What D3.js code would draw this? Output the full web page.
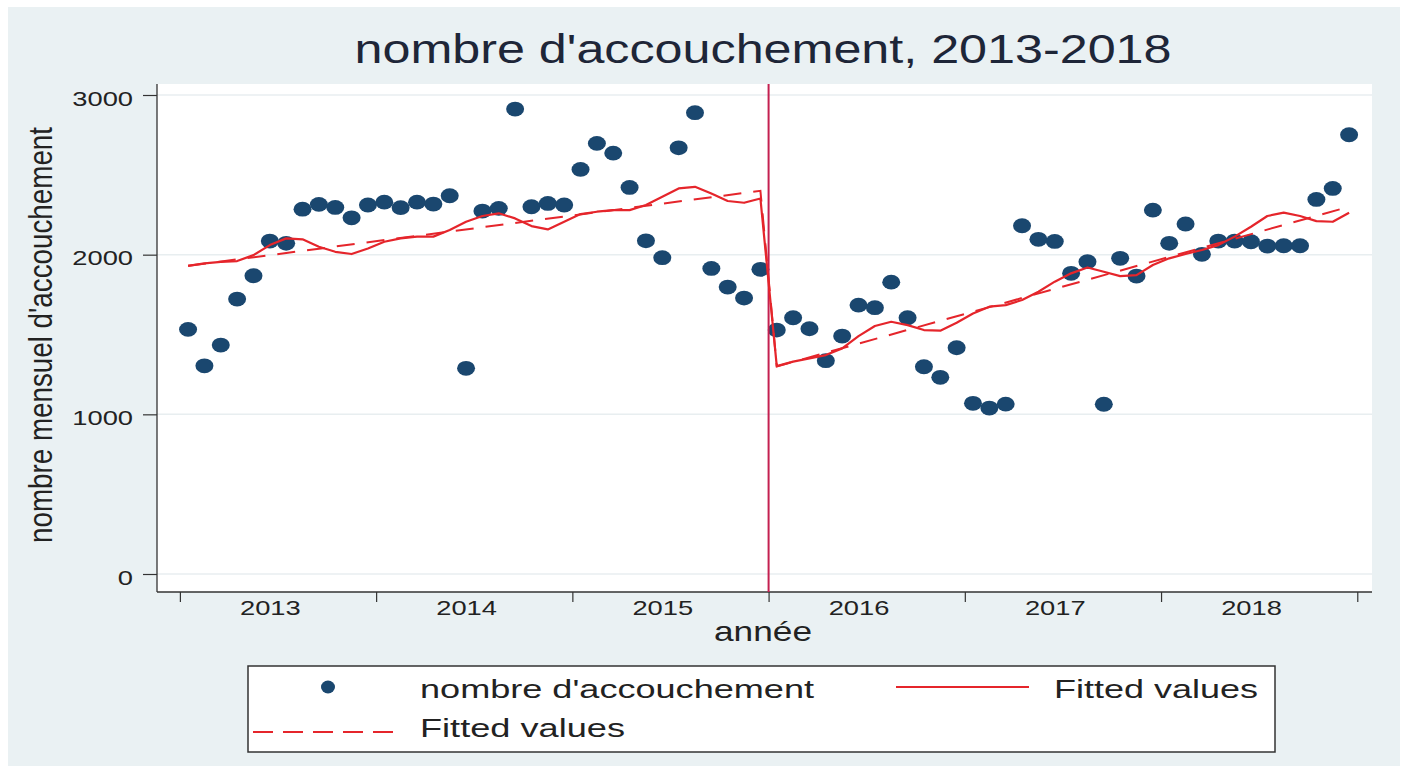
<!DOCTYPE html>
<html>
<head>
<meta charset="utf-8">
<script src="https://cdn.jsdelivr.net/npm/d3@7"></script>
<style>
  html, body { margin: 0; padding: 0; background: #ffffff; }
  svg { display: block; font-family: "Liberation Sans", Arial, Helvetica, sans-serif; }
</style>
</head>
<body>
<svg id="chart" width="1408" height="773"></svg>
<script>
// Monthly deliveries 2013-2018 with two fitted series (interrupted time series)
const years = ["2013", "2014", "2015", "2016", "2017", "2018"];
const months = years.flatMap(y => d3.range(1, 13).map(m => `${y}m${m}`));

// Observed monthly number of deliveries
const births = [
  1532, 1304, 1434, 1722, 1868, 2085, 2071, 2285, 2315, 2296, 2231, 2311,
  2329, 2294, 2329, 2317, 2369, 1288, 2273, 2290, 2912, 2300, 2321, 2311,
  2534, 2697, 2636, 2421, 2087, 1981, 2669, 2889, 1914, 1797, 1728, 1908,
  1528, 1605, 1536, 1336, 1490, 1684, 1668, 1828, 1605, 1298, 1232, 1417,
  1069, 1039, 1064, 2181, 2096, 2083, 1883, 1956, 1063, 1977, 1866, 2279,
  2071, 2192, 2002, 2085, 2085, 2081, 2054, 2056, 2056, 2346, 2415, 2751
];

// Fitted values with seasonal terms (solid)
const fittedSeasonal = [
  1930, 1945, 1955, 1960, 1997, 2060, 2102, 2096, 2050, 2018, 2004, 2039,
  2081, 2102, 2113, 2113, 2154, 2206, 2242, 2259, 2227, 2179, 2158, 2206,
  2254, 2269, 2279, 2279, 2311, 2363, 2415, 2425, 2383, 2336, 2325, 2352,
  1302, 1330, 1350, 1371, 1413, 1490, 1553, 1580, 1559, 1528, 1524, 1574,
  1632, 1674, 1684, 1716, 1768, 1831, 1883, 1920, 1893, 1866, 1872, 1935,
  1977, 2004, 2029, 2060, 2113, 2175, 2242, 2263, 2242, 2210, 2206, 2263
];

// Linear segmented fit (dashed): segment end points
const trendMonths = ["2013m1", "2015m12", "2016m1", "2018m12"];
const trendValues = [1930, 2400, 1300, 2300];

// Intervention month boundary and axis ticks
const interventionAfter = "2015m12";
const yTicks = [0, 1000, 2000, 3000];
const titleText = "nombre d'accouchement, 2013-2018";
const yTitle = "nombre mensuel d'accouchement";
const xTitle = "année";
const legendLabels = ["nombre d'accouchement", "Fitted values", "Fitted values"];

const navy = "#1A476F";
const red = "#E5252B";
const lineMaroon = "#C42050";
const ink = "#222222";

const svg = d3.select("#chart");

// background
svg.append("rect").attr("x", 0).attr("y", 0).attr("width", 1408).attr("height", 773).attr("fill", "#ffffff");
svg.append("rect").attr("x", 8).attr("y", 7).attr("width", 1392).attr("height", 759).attr("fill", "#EAF1F3");

const plot = { left: 157, right: 1372, top: 84, bottom: 592 };
svg.append("rect")
  .attr("x", plot.left).attr("y", plot.top)
  .attr("width", plot.right - plot.left).attr("height", plot.bottom - plot.top)
  .attr("fill", "#ffffff");

const idx = m => months.indexOf(m);
const x = d3.scaleLinear().domain([-1.9, 72.4]).range([plot.left, plot.right]);
const y = d3.scaleLinear().domain([0, 3000]).range([574, 95]);

function stretch(sel, k) {
  sel.each(function () {
    const w = this.getComputedTextLength();
    d3.select(this).attr("textLength", w * k).attr("lengthAdjust", "spacingAndGlyphs");
  });
}

// gridlines
svg.append("g").selectAll("line").data(yTicks).join("line")
  .attr("x1", plot.left).attr("x2", plot.right)
  .attr("y1", d => y(d)).attr("y2", d => y(d))
  .attr("stroke", "#E8EEF0").attr("stroke-width", 1.5);

// y axis
const yAxis = svg.append("g")
  .attr("transform", `translate(${plot.left},0)`)
  .call(d3.axisLeft(y).tickValues(yTicks).tickSize(14).tickPadding(10).tickFormat(d3.format("d")));
yAxis.select(".domain").attr("d", `M0,${plot.top}V${plot.bottom}`).attr("stroke", "#333").attr("stroke-width", 1.3);
yAxis.selectAll(".tick line").attr("stroke", "#333").attr("stroke-width", 1.2);
yAxis.selectAll("text")
  .attr("font-size", 21).attr("fill", ink).attr("dy", "0.48em")
  .attr("font-family", "'Liberation Sans', Arial, sans-serif")
  .call(stretch, 1.3);

// x axis: year boundary ticks
const boundaries = years.map((yr, k) => idx(`${yr}m1`) - 0.5).concat([idx("2018m12") + 0.5]);
const xAxis = svg.append("g")
  .attr("transform", `translate(0,${plot.bottom})`)
  .call(d3.axisBottom(x).tickValues(boundaries).tickSize(10).tickFormat(""));
xAxis.select(".domain").attr("d", `M${plot.left},0H${plot.right}`).attr("stroke", "#333").attr("stroke-width", 1.3);
xAxis.selectAll(".tick line").attr("stroke", "#333").attr("stroke-width", 1.2);

// x axis: year labels at mid-year
const labelAxis = svg.append("g")
  .attr("transform", `translate(0,${plot.bottom})`)
  .call(d3.axisBottom(x).tickValues(years.map(yr => idx(`${yr}m6`))).tickSize(0).tickPadding(8)
    .tickFormat(v => months[v].slice(0, 4)));
labelAxis.select(".domain").remove();
labelAxis.selectAll("text")
  .attr("font-size", 21).attr("fill", ink)
  .attr("font-family", "'Liberation Sans', Arial, sans-serif")
  .call(stretch, 1.3);

// scatter of observed values
svg.append("g").selectAll("ellipse").data(births).join("ellipse")
  .attr("cx", (d, i) => x(i)).attr("cy", d => y(d))
  .attr("rx", 9).attr("ry", 7.4)
  .attr("fill", navy);

// intervention line
const xv = x(idx(interventionAfter) + 0.5);
svg.append("line")
  .attr("x1", xv).attr("x2", xv).attr("y1", plot.top).attr("y2", plot.bottom)
  .attr("stroke", lineMaroon).attr("stroke-width", 2);

// fitted lines
const line = d3.line().x(d => x(d[0])).y(d => y(d[1]));
svg.append("path")
  .datum(trendMonths.map((m, k) => [idx(m), trendValues[k]]))
  .attr("d", line).attr("fill", "none")
  .attr("stroke", red).attr("stroke-width", 2).attr("stroke-dasharray", "18,12");
svg.append("path")
  .datum(fittedSeasonal.map((v, i) => [i, v]))
  .attr("d", line).attr("fill", "none")
  .attr("stroke", red).attr("stroke-width", 2.2).attr("stroke-linejoin", "round");

// title
svg.append("text")
  .attr("x", 763).attr("y", 63).attr("text-anchor", "middle")
  .attr("font-size", 40).attr("fill", "#1E2638")
  .attr("textLength", 817).attr("lengthAdjust", "spacingAndGlyphs")
  .text(titleText);

// axis titles
svg.append("text")
  .attr("transform", "translate(52,335) scale(1.18,1) rotate(-90)")
  .attr("text-anchor", "middle").attr("font-size", 28).attr("fill", ink)
  .attr("textLength", 416).attr("lengthAdjust", "spacingAndGlyphs")
  .text(yTitle);
svg.append("text")
  .attr("x", 763).attr("y", 641).attr("text-anchor", "middle")
  .attr("font-size", 28).attr("fill", ink)
  .attr("textLength", 98).attr("lengthAdjust", "spacingAndGlyphs")
  .text(xTitle);

// legend
const lg = svg.append("g");
lg.append("rect").attr("x", 248).attr("y", 666).attr("width", 1027).attr("height", 86)
  .attr("fill", "#ffffff").attr("stroke", "#333").attr("stroke-width", 1.5);
lg.append("ellipse").attr("cx", 328).attr("cy", 687).attr("rx", 7).attr("ry", 6.5).attr("fill", navy);
lg.append("line").attr("x1", 896).attr("x2", 1029).attr("y1", 687).attr("y2", 687)
  .attr("stroke", red).attr("stroke-width", 2.2);
lg.append("line").attr("x1", 253).attr("x2", 393).attr("y1", 732).attr("y2", 732)
  .attr("stroke", red).attr("stroke-width", 2).attr("stroke-dasharray", "20,10");
const legendPos = [[420, 698, 394], [1054, 698, 204], [420, 737, 205]];
lg.selectAll("text.lab").data(legendLabels).join("text")
  .attr("class", "lab")
  .attr("x", (d, i) => legendPos[i][0]).attr("y", (d, i) => legendPos[i][1])
  .attr("font-size", 26).attr("fill", ink)
  .attr("textLength", (d, i) => legendPos[i][2]).attr("lengthAdjust", "spacingAndGlyphs")
  .text(d => d);
</script>
</body>
</html>
